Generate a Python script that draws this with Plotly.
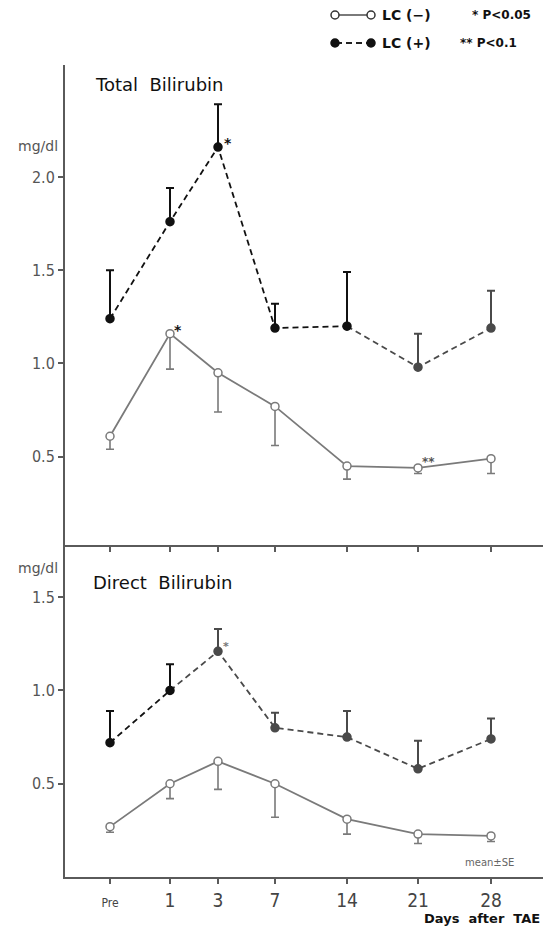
import plotly.graph_objects as go

# ---------------- data ----------------
day_labels = ["Pre", "1", "3", "7", "14", "21", "28"]
# horizontal placement of the time points on the (non-uniform) original axis
tick_positions = [0, 60, 108, 165, 237, 308, 381]

total_lc_neg = [0.61, 1.16, 0.95, 0.77, 0.45, 0.44, 0.49]
total_lc_neg_se = [0.07, 0.19, 0.21, 0.21, 0.07, 0.03, 0.08]
total_lc_pos = [1.24, 1.76, 2.16, 1.19, 1.20, 0.98, 1.19]
total_lc_pos_se = [0.26, 0.18, 0.23, 0.13, 0.29, 0.18, 0.20]

direct_lc_neg = [0.27, 0.50, 0.62, 0.50, 0.31, 0.23, 0.22]
direct_lc_neg_se = [0.03, 0.08, 0.15, 0.18, 0.08, 0.05, 0.03]
direct_lc_pos = [0.72, 1.00, 1.21, 0.80, 0.75, 0.58, 0.74]
direct_lc_pos_se = [0.17, 0.14, 0.12, 0.08, 0.14, 0.15, 0.11]

# ---------------- figure geometry ----------------
W, H = 548, 928
ML, MR, MT, MB = 65, 5, 65, 51
PW, PH = W - ML - MR, H - MT - MB
split_frac = 332 / PH  # bottom panel share


def px_x(px):
    return (px - ML) / PW


def px_y(py):
    return (H - MB - py) / PH


AX = "#5a5a5a"
GRAY = "#7a7a7a"
DARK = "#111111"
MID = "#4a4a4a"
NARROW = "Liberation Sans Narrow, DejaVu Sans Condensed, Arial Narrow, sans-serif"
SANS = "DejaVu Sans, Arial, sans-serif"
DASH = "6px,4px"

fig = go.Figure()


def add_series(y, se, xa, ya, split, c1, c2, dash, filled, up):
    x = tick_positions
    segs = [(0, split, c1), (split, len(x) - 1, c2)]
    for a, b, c in segs:
        if b <= a:
            continue
        fig.add_trace(go.Scatter(
            x=x[a:b + 1], y=y[a:b + 1], mode="lines",
            line=dict(color=c, width=1.8, dash=dash),
            xaxis=xa, yaxis=ya, showlegend=False, hoverinfo="skip"))
    groups = [(0, split + 1, c1), (split + 1, len(x), c2)]
    for a, b, c in groups:
        if b <= a:
            continue
        s = se[a:b]
        zeros = [0] * len(s)
        fig.add_trace(go.Scatter(
            x=x[a:b], y=y[a:b], mode="markers",
            marker=dict(size=8, symbol="circle",
                        color=c if filled else "white",
                        line=dict(color=c, width=1.5)),
            error_y=dict(type="data", symmetric=False,
                         array=s if up else zeros,
                         arrayminus=zeros if up else s,
                         color=c, thickness=2 if filled else 1.6, width=4),
            xaxis=xa, yaxis=ya, showlegend=False, hoverinfo="skip"))


# bottom panel (Direct) -> x / y ; top panel (Total) -> x2 / y2
add_series(direct_lc_neg, direct_lc_neg_se, "x", "y", len(tick_positions) - 1,
           GRAY, GRAY, "solid", False, False)
add_series(direct_lc_pos, direct_lc_pos_se, "x", "y", 1,
           DARK, MID, DASH, True, True)
add_series(total_lc_neg, total_lc_neg_se, "x2", "y2", len(tick_positions) - 1,
           GRAY, GRAY, "solid", False, False)
add_series(total_lc_pos, total_lc_pos_se, "x2", "y2", 4,
           DARK, MID, DASH, True, True)

xrange = [-45, 433]
axis_common = dict(showline=True, linecolor=AX, linewidth=2, ticks="outside",
                   ticklen=5, tickwidth=1.5, tickcolor=AX, showgrid=False,
                   zeroline=False)

pre_label = "<span style='font-size:12px'>Pre</span>"
fig.update_layout(
    width=W, height=H,
    margin=dict(l=ML, r=MR, t=MT, b=MB),
    paper_bgcolor="white", plot_bgcolor="white",
    showlegend=False,
    xaxis=dict(domain=[0, 1], range=xrange, anchor="y",
               tickvals=tick_positions,
               ticktext=[pre_label] + day_labels[1:],
               tickfont=dict(family=NARROW, size=19, color="#444"),
               **axis_common),
    yaxis=dict(domain=[0, split_frac], range=[0, 1.78], anchor="x",
               tickvals=[0.5, 1.0, 1.5], ticktext=["0.5", "1.0", "1.5"],
               tickfont=dict(family=NARROW, size=16, color="#555"),
               **axis_common),
    xaxis2=dict(domain=[0, 1], range=xrange, anchor="y2",
                tickvals=tick_positions, showticklabels=False,
                **axis_common),
    yaxis2=dict(domain=[split_frac, 1], range=[0.027, 2.60], anchor="x2",
                tickvals=[0.5, 1.0, 1.5, 2.0],
                ticktext=["0.5", "1.0", "1.5", "2.0"],
                tickfont=dict(family=NARROW, size=16, color="#555"),
                **axis_common),
)

ann = []


def text(px, py, s, size, color="#111", anchor="left", family=SANS, bold=False):
    ann.append(dict(x=px_x(px), y=px_y(py), xref="paper", yref="paper",
                    text=f"<b>{s}</b>" if bold else s, showarrow=False,
                    xanchor=anchor, yanchor="middle",
                    font=dict(size=size, color=color, family=family)))


text(93, 85, "Total  Bilirubin", 18)
text(91, 582, "Direct  Bilirubin", 18)
text(60, 146, "mg/dl", 14, color="#555", anchor="right")
text(60, 568, "mg/dl", 14, color="#555", anchor="right")
text(542, 918, "Days  after  TAE", 13, anchor="right", bold=True)
text(516, 862, "mean±SE", 10, color="#666", anchor="right")

# legend
text(380, 15, "LC (−)", 14, bold=True)
text(380, 43, "LC (+)", 14, bold=True)
text(470, 15, "* P<0.05", 12, bold=True)
text(458, 43, "** P<0.1", 12, bold=True)


# significance marks attached to data points
def star(xa, ya, i, y, s, dx, dy, size=14, color="#111"):
    ann.append(dict(x=tick_positions[i], y=y[i], xref=xa, yref=ya, text=s,
                    showarrow=False, xshift=dx, yshift=dy,
                    font=dict(size=size, color=color, family=SANS, weight="bold")))


star("x2", "y2", 2, total_lc_pos, "*", 10, 4)
star("x2", "y2", 1, total_lc_neg, "*", 8, 4)
star("x2", "y2", 5, total_lc_neg, "**", 10, 6, size=12, color="#555")
star("x", "y", 2, direct_lc_pos, "*", 8, 5, size=11, color="#777")

fig.update_layout(annotations=ann)

# legend glyphs (shapes in paper coordinates)
shapes = []
for py, dash, filled in [(15, "solid", False), (43, DASH, True)]:
    shapes.append(dict(type="line", xref="paper", yref="paper",
                       x0=px_x(336), x1=px_x(370), y0=px_y(py), y1=px_y(py),
                       line=dict(color="#222" if filled else GRAY, width=1.8,
                                 dash=dash)))
    for cx in (335, 371):
        shapes.append(dict(type="circle", xref="paper", yref="paper",
                           xsizemode="pixel", ysizemode="pixel",
                           xanchor=px_x(cx), yanchor=px_y(py),
                           x0=-4, x1=4, y0=-4, y1=4,
                           fillcolor="#111" if filled else "white",
                           line=dict(color="#111" if filled else "#333",
                                     width=1.5)))
fig.update_layout(shapes=shapes)

fig.write_html("out.html")
